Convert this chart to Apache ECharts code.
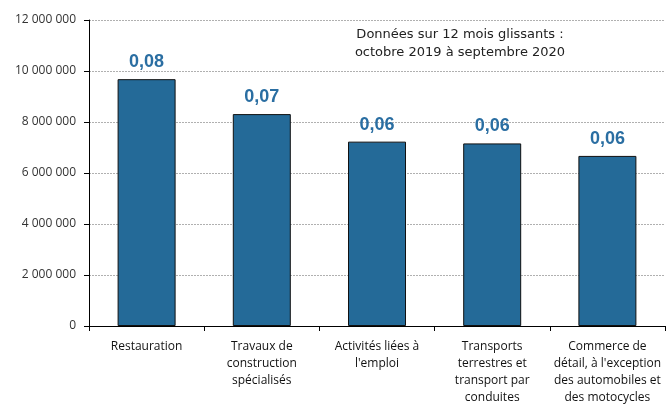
<!DOCTYPE html>
<html><head><meta charset="utf-8">
<script src="https://cdn.jsdelivr.net/npm/echarts@6/dist/echarts.min.js"></script>
<style>html,body{margin:0;padding:0;background:#fff}#c{width:666px;height:406px}</style>
</head><body><div id="c"></div>
<script>
const categories = ["Restauration","Travaux de\nconstruction\nspécialisés","Activités liées à\nl'emploi","Transports\nterrestres et\ntransport par\nconduites","Commerce de\ndétail, à l'exception\ndes automobiles et\ndes motocycles"];
const values = [9680000, 8310000, 7230000, 7160000, 6670000];
const labels = ["0,08","0,07","0,06","0,06","0,06"];
const yTicks = [0, 2000000, 4000000, 6000000, 8000000, 10000000, 12000000];
const note = "Données sur 12 mois glissants :\noctobre 2019 à septembre 2020";

const chart = echarts.init(document.getElementById('c'), null, {renderer:'canvas'});
chart.setOption({
  animation:false,
  grid:{left:89, right:1, top:20, bottom:80, containLabel:false},
  graphic:[{type:'text', x:460, y:26, style:{text:note, font:'13px "DejaVu Sans", sans-serif', fill:'#222', align:'center', lineHeight:18}}],
  xAxis:{type:'category', data:categories,
    axisLine:{lineStyle:{color:'#000', width:1}},
    axisTick:{show:true, length:5, lineStyle:{color:'#000'}},
    axisLabel:{color:'#111', fontSize:12, fontFamily:'"Open Sans", sans-serif', lineHeight:17, margin:12, interval:0}},
  yAxis:{type:'value', min:0, max:12000000, interval:2000000,
    axisLine:{show:true, lineStyle:{color:'#000'}},
    axisTick:{show:true, length:5, lineStyle:{color:'#000'}},
    splitLine:{lineStyle:{color:'#b0b0b0', type:[2,1], width:1}},
    axisLabel:{color:'#333', fontSize:12, fontFamily:'"Open Sans", sans-serif', margin:13,
      formatter:v=>String(Math.round(v)).replace(/\B(?=(\d{3})+(?!\d))/g,' ')}},
  series:[{type:'bar', data:values, barWidth:58,
    itemStyle:{color:'#246a98', borderColor:'#111', borderWidth:1},
    label:{show:true, position:'top', distance:8, color:'#2a6ea2', fontSize:18, fontWeight:'bold', fontFamily:'"Liberation Sans", Arial, sans-serif',
      formatter:p=>labels[p.dataIndex]}}]
});
</script></body></html>
